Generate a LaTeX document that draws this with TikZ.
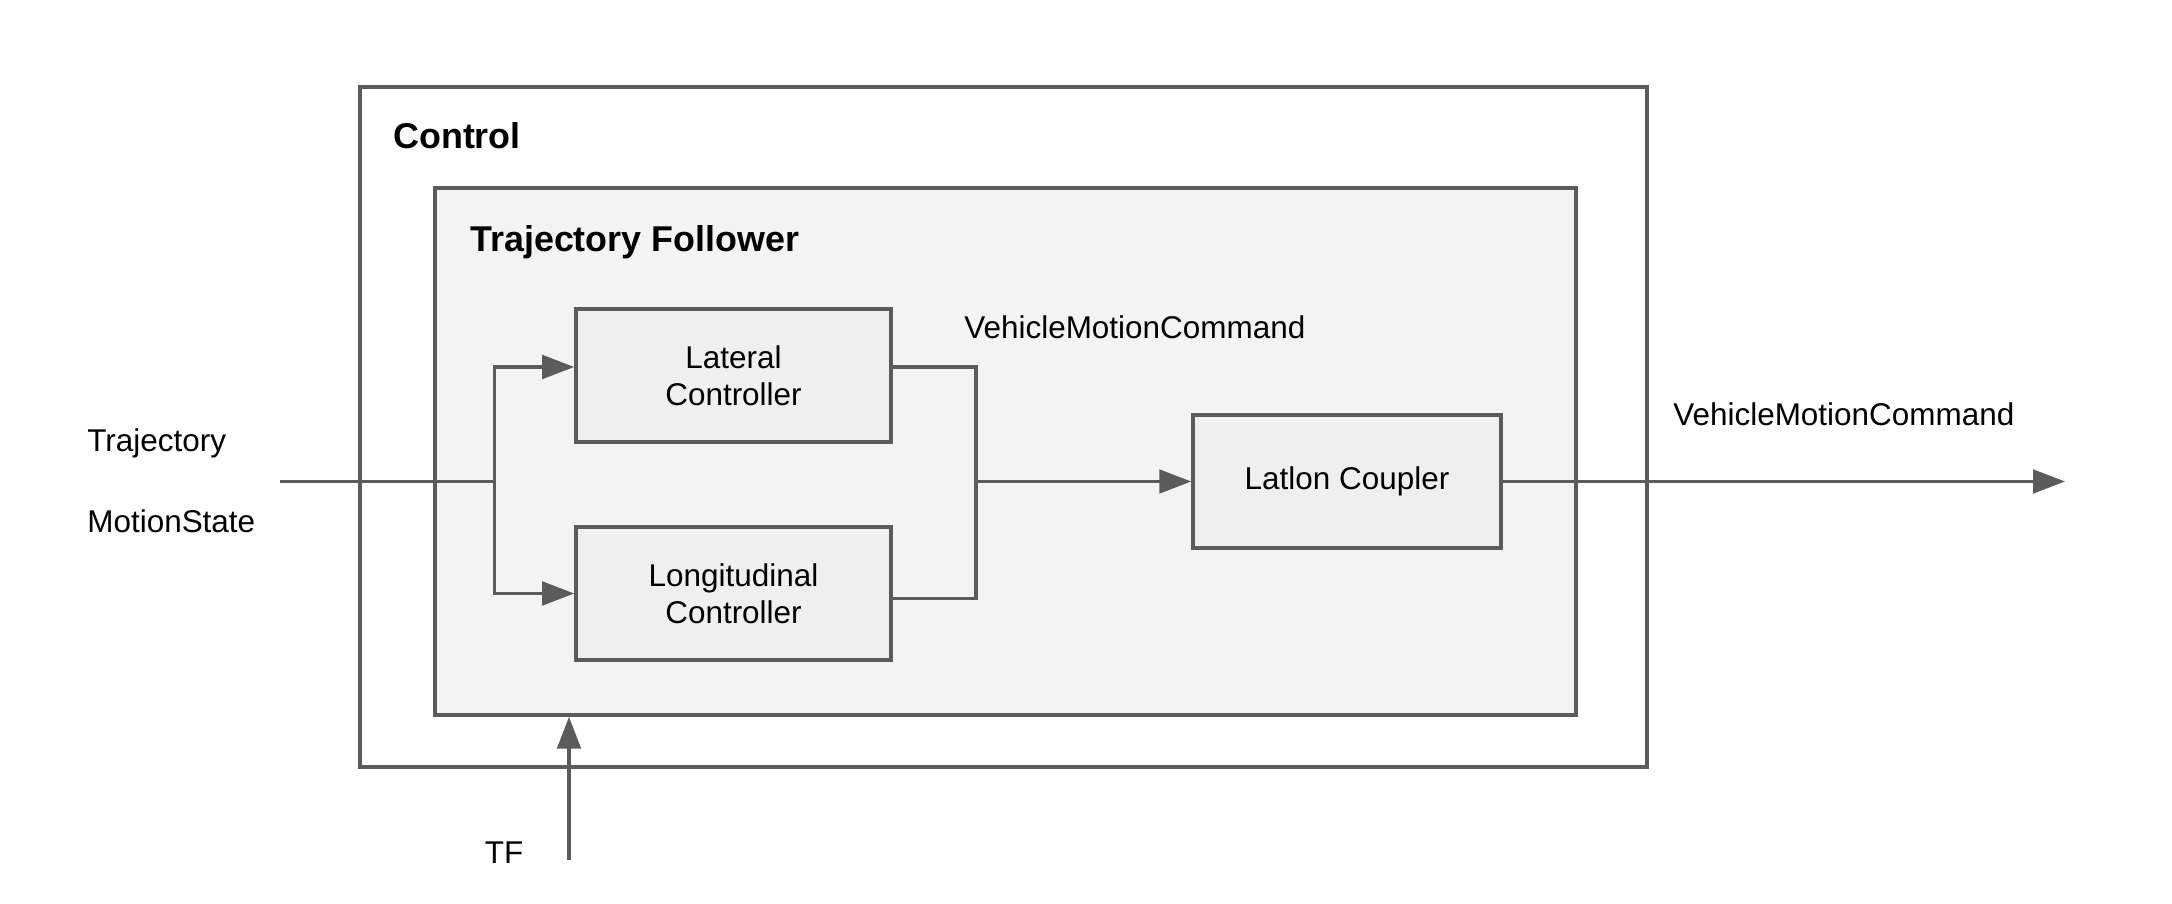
\documentclass[tikz,border=0pt]{standalone}
\usepackage{fontspec}
\setmainfont{Liberation Sans}
\usepackage{xcolor}
\usetikzlibrary{arrows.meta, positioning, calc}
\definecolor{ln}{HTML}{5B5B5B}
\definecolor{tfgray}{HTML}{F3F3F3}
\definecolor{boxgray}{HTML}{EFEFEF}

\begin{document}
\begin{tikzpicture}[x=1cm,y=1cm]
\tikzset{
  frame/.style={rectangle,draw=ln,line width=2pt,inner sep=0pt},
  blk/.style={rectangle,draw=ln,line width=2pt,fill=boxgray,align=center,minimum width=6.3cm,minimum height=2.66cm,font=\fontsize{17.9}{21.2}\selectfont},
  ttl/.style={anchor=west,inner sep=0pt,font=\fontsize{20.4}{24}\selectfont\bfseries},
  lbl/.style={anchor=west,inner sep=0pt,font=\fontsize{17.9}{21.2}\selectfont},
  wire/.style={draw=ln,line width=2pt},
  ar/.style={-{Triangle[length=6.4mm,width=4.7mm]},line width=2pt,draw=ln}
}
\useasboundingbox (0,0) rectangle (43.44,18.08);
% frames
\node[frame,minimum width=25.74cm,minimum height=13.6cm] (ctl) at (20.07,9.54) {};
\node[frame,fill=tfgray,minimum width=22.82cm,minimum height=10.54cm] (tf) at (20.11,9.05) {};
\node[ttl] (ctltxt) at (7.86,15.36) {Control};
\node[ttl] (tftxt) at (9.4,13.24) {Trajectory Follower};
% blocks
\node[blk] (lat) at (14.67,10.57) {Lateral\\Controller};
\node[blk] (lon) at (14.67,6.21) {Longitudinal\\Controller};
\node[blk,minimum width=6.16cm] (cpl) at (26.94,8.45) {Latlon Coupler};
% labels
\node[lbl] (trj) at (1.74,9.22) {Trajectory};
\node[lbl] (mst) at (1.74,7.66) {MotionState};
\node[lbl] (vmc1) at (19.28,11.54) {VehicleMotionCommand};
\node[lbl] (vmc2) at (33.46,9.8) {VehicleMotionCommand};
\node[lbl,anchor=center] (tftag) at (10.08,1.02) {TF};
% wires
\coordinate (in) at (5.6,8.45);
\coordinate (split) at (9.89,8.45);
\coordinate (merge) at (19.52,8.45);
\coordinate (out) at (41.3,8.45);
\coordinate (tfin) at (11.38,0.88);
\draw[wire] (in) -- (split);
\draw[ar] (split) |- ([yshift=0.17cm]lat.west);
\draw[ar] (split) |- (lon.west);
\draw[wire] ([yshift=0.17cm]lat.east) -| (merge);
\draw[wire] ([yshift=-0.1cm]lon.east) -| (merge);
\draw[ar] (merge) -- (cpl.west);
\draw[ar] (cpl.east) -- (out);
\draw[ar] (tfin) -- (tfin |- tf.south);
\end{tikzpicture}
\end{document}
